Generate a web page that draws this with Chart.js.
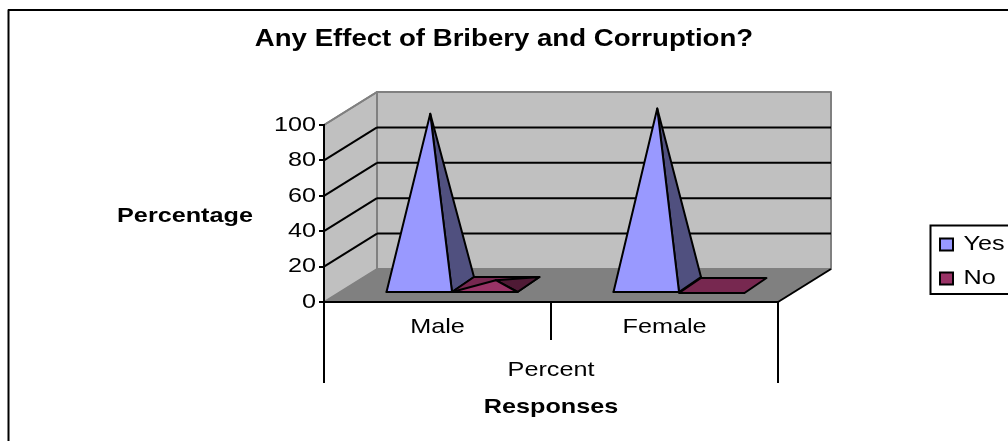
<!DOCTYPE html>
<html lang="en">
<head>
    <meta charset="UTF-8">
    <title>Any Effect of Bribery and Corruption?</title>
    <script src="https://cdn.jsdelivr.net/npm/chart.js"></script>
    <style>
        html, body { margin: 0; padding: 0; background: #fff; overflow: hidden; }
        .chart-container { position: relative; width: 1008px; height: 441px; }
    </style>
</head>
<body>
    <div class="chart-container">
        <canvas id="briberyChart"></canvas>
    </div>

    <script>
        // Chart data
        const categories = ["Male", "Female"];
        const groupLabels = ["Percent"];
        const yesValues = [97, 100];
        const noValues = [3, 0];
        const yTicks = [0, 20, 40, 60, 80, 100];

        const FONT = "'Liberation Sans', Arial, sans-serif";
        const TEXT_STRETCH = 1.2; // the reference is a horizontally stretched picture

        // 3D look of the old spreadsheet chart
        const WALL_DX = 53, WALL_DY = 33;
        const BASE_FRONT = { dx: 14.5, dy: 9 };
        const BASE_BACK = { dx: 36.5, dy: 24 };
        const SHADES = [
            { front: "#9999ff", side: "#50507f", back: "#50507f" },
            { front: "#993366", side: "#4f1a35", back: "#772850" }
        ];

        function polygon(ctx, points, fill, stroke, width) {
            ctx.beginPath();
            points.forEach(function(p, i) {
                if (i === 0) ctx.moveTo(p[0], p[1]); else ctx.lineTo(p[0], p[1]);
            });
            ctx.closePath();
            if (fill) { ctx.fillStyle = fill; ctx.fill(); }
            if (stroke) { ctx.strokeStyle = stroke; ctx.lineWidth = width; ctx.lineJoin = "round"; ctx.stroke(); }
        }

        function line(ctx, x1, y1, x2, y2, color, width) {
            ctx.beginPath();
            ctx.moveTo(x1, y1);
            ctx.lineTo(x2, y2);
            ctx.strokeStyle = color;
            ctx.lineWidth = width;
            ctx.stroke();
        }

        const box3d = {
            id: "box3d",
            afterLayout: function(chart) {
                // legend sits far to the right of the plot, out of the layout flow
                const legend = chart.legend;
                legend.left = 927;
                legend.right = 1010;
                legend.top = 221;
                legend.bottom = 340;
                // title is centred on the whole picture, not on the padded area
                chart.titleBlock.left = 0;
                chart.titleBlock.right = 1008;
            },
            beforeDraw: function(chart) {
                const ctx = chart.ctx;
                const a = chart.chartArea;
                const y = chart.scales.y;
                ctx.save();

                // chart frame, its right and bottom sides are cut off by the picture
                line(ctx, 8.5, 9.5, 8.5, 441, "#000", 2);
                line(ctx, 8, 10, 1008, 10, "#000", 2);

                // back wall, side wall, floor
                polygon(ctx, [[a.left + WALL_DX, a.top - WALL_DY], [a.right + WALL_DX, a.top - WALL_DY],
                    [a.right + WALL_DX, a.bottom - WALL_DY], [a.left + WALL_DX, a.bottom - WALL_DY]], "#c0c0c0", "#808080", 2);
                polygon(ctx, [[a.left, a.top], [a.left + WALL_DX, a.top - WALL_DY],
                    [a.left + WALL_DX, a.bottom - WALL_DY], [a.left, a.bottom]], "#c0c0c0", "#808080", 2);
                polygon(ctx, [[a.left, a.bottom], [a.left + WALL_DX, a.bottom - WALL_DY],
                    [a.right + WALL_DX, a.bottom - WALL_DY], [a.right, a.bottom]], "#808080");

                // gridlines on both walls
                yTicks.forEach(function(v) {
                    if (v === 0) return;
                    const py = y.getPixelForValue(v);
                    line(ctx, a.left, py, a.left + WALL_DX, py - WALL_DY, v === 100 ? "#808080" : "#000", 2);
                    if (v < 100) line(ctx, a.left + WALL_DX, py - WALL_DY, a.right + WALL_DX, py - WALL_DY, "#000", 2);
                });
                line(ctx, a.right, a.bottom, a.right + WALL_DX, a.bottom - WALL_DY, "#000", 2);
                ctx.restore();
            },
            beforeDatasetsDraw: function(chart) {
                const ctx = chart.ctx;
                ctx.save();
                chart.data.datasets.forEach(function(ds, i) {
                    chart.getDatasetMeta(i).data.forEach(function(bar) {
                        const left = bar.x - bar.width / 2, right = bar.x + bar.width / 2;
                        const fl = [left + BASE_FRONT.dx, bar.base - BASE_FRONT.dy];
                        const fr = [right + BASE_FRONT.dx, bar.base - BASE_FRONT.dy];
                        const bl = [left + BASE_BACK.dx, bar.base - BASE_BACK.dy];
                        const br = [right + BASE_BACK.dx, bar.base - BASE_BACK.dy];
                        const top = [(fl[0] + br[0]) / 2, (fl[1] + br[1]) / 2 - (bar.base - bar.y)];
                        const c = SHADES[i];
                        polygon(ctx, [fl, fr, br, bl], c.back, "#000", 2);
                        if (bar.base - bar.y < 1) return; // zero value stays a flat base
                        polygon(ctx, [fr, br, top], c.side, "#000", 2);
                        polygon(ctx, [fl, fr, top], c.front, "#000", 2);
                    });
                });
                ctx.restore();
                return false; // the pyramids replace the flat bars
            },
            afterDraw: function(chart) {
                const ctx = chart.ctx;
                ctx.save();
                // legend border
                ctx.strokeStyle = "#000";
                ctx.lineWidth = 2;
                ctx.strokeRect(930.5, 225.5, 90, 68.5);
                // horizontal y axis title
                ctx.fillStyle = "#000";
                ctx.font = "bold 21px " + FONT;
                ctx.textAlign = "center";
                ctx.textBaseline = "middle";
                ctx.fillText("Percentage", 185, 216);
                ctx.restore();
            }
        };

        const canvas = document.getElementById("briberyChart");

        // stretch every text sideways around its anchor point
        const ctx2d = canvas.getContext("2d");
        const plainFillText = ctx2d.fillText;
        ctx2d.fillText = function(text, x, y) {
            this.save();
            this.translate(x, y);
            this.scale(TEXT_STRETCH, 1);
            plainFillText.call(this, text, 0, 0);
            this.restore();
        };

        new Chart(canvas, {
            type: "bar",
            plugins: [box3d],
            data: {
                labels: categories,
                datasets: [
                    { label: "Yes", data: yesValues, backgroundColor: "#9999ff", borderColor: "#000", borderWidth: 2 },
                    { label: "No", data: noValues, backgroundColor: "#993366", borderColor: "#000", borderWidth: 2 }
                ]
            },
            options: {
                responsive: true,
                maintainAspectRatio: false,
                animation: false,
                layout: { padding: { left: 0, right: 230, top: 0, bottom: 21 } },
                font: { family: FONT },
                categoryPercentage: 0.577,
                barPercentage: 1,
                plugins: {
                    title: {
                        display: true,
                        text: "Any Effect of Bribery and Corruption?",
                        color: "#000",
                        font: { family: FONT, size: 23, weight: "bold" },
                        padding: { top: 26, bottom: 71.4 }
                    },
                    legend: {
                        position: "chartArea",
                        align: "start",
                        labels: {
                            color: "#000",
                            font: { family: FONT, size: 21 },
                            boxWidth: 13,
                            boxHeight: 12,
                            padding: 13
                        }
                    },
                    tooltip: { enabled: false }
                },
                scales: {
                    y: {
                        min: 0,
                        max: 100,
                        afterFit: function(scale) { scale.width = 324; },
                        afterBuildTicks: function(scale) {
                            scale.ticks = yTicks.map(function(v) { return { value: v }; });
                        },
                        grid: { drawOnChartArea: false, color: "#000", tickLength: 5, lineWidth: 2 },
                        border: { color: "#000", width: 2 },
                        ticks: { color: "#000", font: { family: FONT, size: 21 }, padding: 3 }
                    },
                    x: {
                        offset: true,
                        afterFit: function(scale) { scale.height = 38; },
                        grid: { offset: true, drawOnChartArea: false, color: "#000", tickLength: 38, lineWidth: 2 },
                        border: { color: "#000", width: 2 },
                        ticks: { color: "#000", font: { family: FONT, size: 21 }, padding: -25, maxRotation: 0 }
                    },
                    x2: {
                        type: "category",
                        position: "bottom",
                        labels: groupLabels,
                        offset: true,
                        afterFit: function(scale) { scale.height = 80; },
                        grid: { offset: true, drawOnChartArea: false, color: "#000", tickLength: 43, lineWidth: 2 },
                        border: { display: false },
                        ticks: { color: "#000", font: { family: FONT, size: 21 }, padding: -25, maxRotation: 0 },
                        title: {
                            display: true,
                            text: "Responses",
                            color: "#000",
                            font: { family: FONT, size: 21, weight: "bold" },
                            padding: 0
                        }
                    }
                }
            }
        });
    </script>
</body>
</html>
